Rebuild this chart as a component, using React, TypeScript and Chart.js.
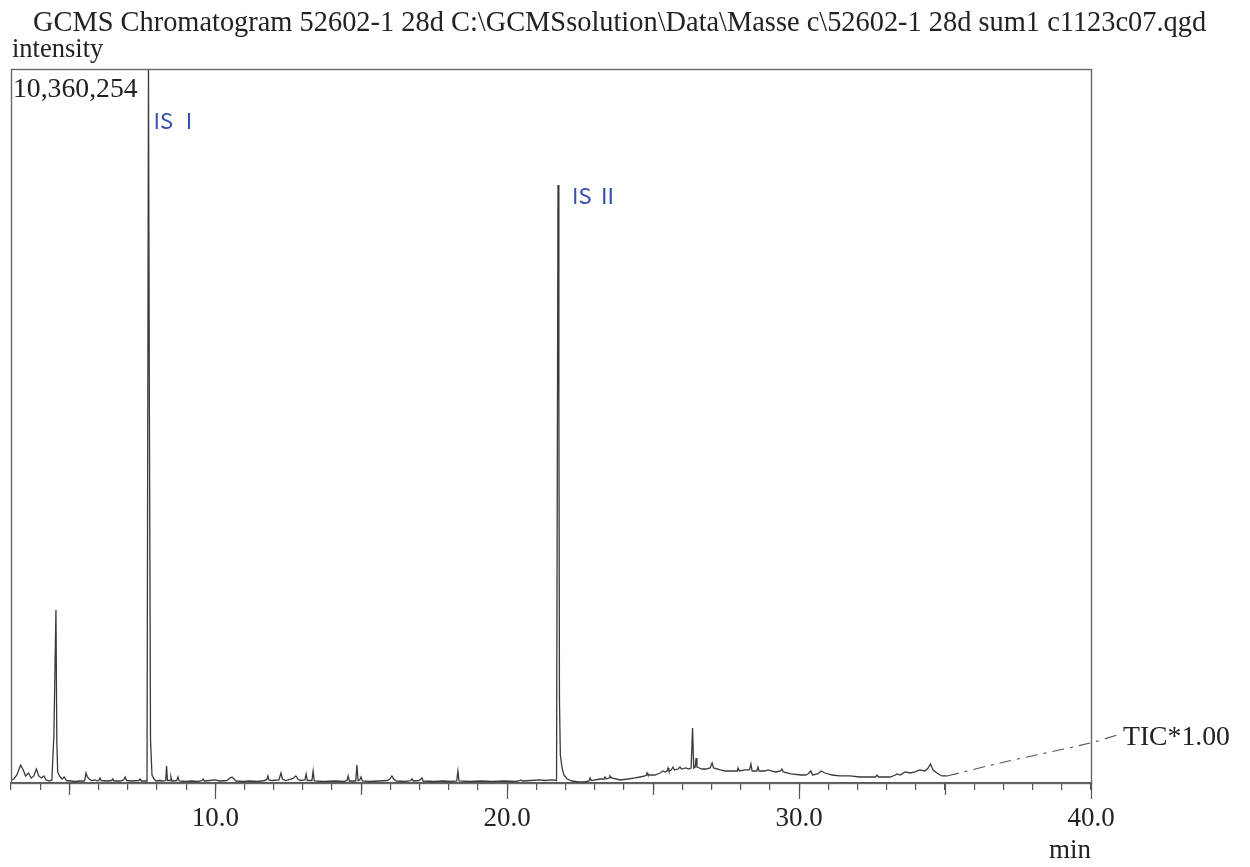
import { useEffect, useRef } from "react";
import { Chart, registerables } from "chart.js";

Chart.register(...registerables);

// ---- text ----
const TITLE =
  "GCMS Chromatogram 52602-1 28d C:\\GCMSsolution\\Data\\Masse c\\52602-1 28d sum1 c1123c07.qgd";
const Y_LABEL = "intensity";
const X_UNIT = "min";
const TRACE_LABEL = "TIC*1.00";

// ---- scales ----
const Y_MAX = 10360254;
const X_MIN = 3.0;
const X_MAX = 40.0;

// ---- chromatogram (retention time in min, intensity in counts) ----
const times = [
  3.0, 3.1, 3.2, 3.33, 3.42, 3.5, 3.6, 3.69, 3.78, 3.87, 3.95, 4.04, 4.13, 4.2, 4.32, 4.4, 4.47, 4.54, 4.57, 4.6,
  4.66, 4.75, 4.82, 4.9, 5.05, 5.2, 5.35, 5.5, 5.53, 5.57, 5.62, 5.68, 5.76, 5.88, 5.97, 6.02, 6.05, 6.09, 6.3, 6.45,
  6.49, 6.53, 6.75, 6.86, 6.91, 6.96, 7.15, 7.38, 7.42, 7.47, 7.66, 7.71, 7.74, 7.78, 7.83, 7.9, 7.97, 8.1,
  8.2, 8.3, 8.33, 8.36, 8.45, 8.48, 8.51, 8.68, 8.72, 8.76, 9.0, 9.2, 9.4, 9.55, 9.58, 9.62, 9.8, 9.99, 10.15, 10.4,
  10.5, 10.57, 10.64, 10.71, 10.95, 11.19, 11.45, 11.7, 11.77, 11.8, 11.84, 11.95, 12.18, 12.25, 12.3, 12.4, 12.62,
  12.68, 12.76, 12.83, 12.92, 13.07, 13.11, 13.15, 13.31, 13.35, 13.39, 13.7, 14.1, 14.4, 14.51, 14.55, 14.59,
  14.81, 14.85, 14.89, 14.95, 14.99, 15.04, 15.3, 15.6, 15.9, 15.98, 16.05, 16.11, 16.2, 16.5, 16.7, 16.74, 16.78,
  16.98, 17.04, 17.08, 17.12, 17.5, 17.8, 18.1, 18.27, 18.31, 18.35, 18.7, 19.1, 19.5, 19.9, 20.3, 20.42, 20.47,
  20.52, 20.8, 21.1, 21.3, 21.54, 21.69, 21.74, 21.77, 21.79, 21.82, 21.88, 21.94, 22.05, 22.22, 22.43,
  22.67, 22.8, 22.84, 22.88, 23.19, 23.32, 23.35, 23.39, 23.49, 23.52, 23.58, 23.87, 24.14, 24.38, 24.55, 24.72,
  24.77, 24.79, 24.82, 25.06, 25.24, 25.34, 25.41, 25.48, 25.51, 25.54, 25.62, 25.68, 25.73, 25.85, 25.92, 25.97,
  26.12, 26.22, 26.3, 26.35, 26.39, 26.44, 26.47, 26.5, 26.58, 26.67, 26.81, 26.95, 27.02, 27.07, 27.3, 27.47,
  27.63, 27.8, 27.88, 27.91, 27.95, 28.15, 28.3, 28.35, 28.39, 28.55, 28.59, 28.63, 28.83, 28.93, 29.07, 29.21,
  29.36, 29.41, 29.46, 29.72, 30.06, 30.23, 30.3, 30.4, 30.46, 30.64, 30.75, 30.89, 31.13, 31.4, 31.74, 32.09,
  32.43, 32.62, 32.67, 32.72, 33.12, 33.3, 33.35, 33.46, 33.63, 33.8, 33.97, 34.14, 34.31, 34.42, 34.5, 34.59,
  34.72, 34.89, 35.07,
];
const intensities = [
  44000, 58000, 116000, 261000, 189000, 102000, 145000, 73000, 102000, 203000, 102000, 73000, 102000, 44000, 29000,
  44000, 700000, 2510000, 600000, 160000, 102000, 58000, 87000, 36000, 29000, 22000, 29000, 29000, 44000, 145000,
  87000, 58000, 36000, 44000, 29000, 44000, 73000, 36000, 29000, 36000, 58000, 29000, 29000, 44000, 87000, 36000,
  29000, 36000, 58000, 29000, 29000, 10360254, 5560000, 624000, 116000, 58000, 29000, 36000, 29000, 36000,
  247000, 36000, 36000, 87000, 29000, 36000, 87000, 29000, 22000, 29000, 22000, 36000, 58000, 29000, 36000, 44000,
  29000, 36000, 73000, 87000, 58000, 29000, 22000, 29000, 22000, 36000, 58000, 102000, 44000, 36000, 44000, 145000,
  58000, 36000, 58000, 73000, 102000, 58000, 36000, 44000, 131000, 36000, 36000, 174000, 29000, 22000, 29000, 22000,
  36000, 102000, 29000, 29000, 261000, 36000, 44000, 87000, 29000, 22000, 29000, 36000, 58000, 102000, 58000, 29000,
  22000, 36000, 58000, 29000, 36000, 58000, 73000, 29000, 22000, 29000, 22000, 29000, 174000, 29000, 22000, 29000,
  22000, 29000, 22000, 36000, 44000, 29000, 36000, 44000, 36000, 44000, 36000, 8677000, 5560000, 1200000,
  406000, 218000, 116000, 58000, 29000, 14500, 14500, 29000, 73000, 36000, 58000, 58000, 87000, 58000, 73000,
  102000, 73000, 44000, 58000, 73000, 87000, 102000, 116000, 145000, 116000, 116000, 145000, 174000, 160000,
  174000, 218000, 174000, 189000, 232000, 189000, 203000, 232000, 203000, 218000, 203000, 218000, 798000, 218000,
  232000, 363000, 232000, 218000, 203000, 203000, 218000, 290000, 218000, 189000, 174000, 174000, 174000, 174000,
  218000, 174000, 189000, 189000, 276000, 174000, 174000, 232000, 174000, 174000, 189000, 174000, 160000, 174000,
  203000, 160000, 131000, 116000, 116000, 131000, 174000, 116000, 131000, 174000, 145000, 116000, 102000, 102000,
  87000, 87000, 87000, 116000, 87000, 87000, 116000, 131000, 116000, 160000, 145000, 160000, 189000, 174000,
  218000, 276000, 189000, 145000, 102000, 102000,
];

// ---- dash-dot leader from trace end to the trace label ----
const leaderTimes = [35.07, 36.88, 39.97, 40.89];
const leaderIntensities = [102000, 290000, 580000, 696000];

// ---- handwritten peak notes ----
const noteTexts = ["IS Ⅰ", "IS Ⅱ"];
const noteTimes = [7.71, 21.74];
const noteIntensities = [10360254, 8677000];

const SERIF = "'Liberation Serif', 'Times New Roman', serif";

const decor = {
  id: "decor",
  afterDraw(chart: any) {
    const { ctx, chartArea: a, scales } = chart;
    const xs = scales.x;
    const ys = scales.y;
    ctx.save();
    // frame
    ctx.strokeStyle = "#666";
    ctx.lineWidth = 1.4;
    ctx.strokeRect(a.left + 0.5, a.top + 0.5, a.right - a.left, a.bottom - a.top);
    // longer ticks at 5 and 10 min
    ctx.strokeStyle = "#555";
    ctx.lineWidth = 1.2;
    for (let v = 5; v <= X_MAX; v += 5) {
      const px = Math.round(xs.getPixelForValue(v)) + 0.5;
      const len = v % 10 === 0 ? 16 : 12;
      ctx.beginPath();
      ctx.moveTo(px, a.bottom);
      ctx.lineTo(px, a.bottom + len);
      ctx.stroke();
    }
    // texts
    ctx.fillStyle = "#222";
    ctx.textBaseline = "alphabetic";
    ctx.textAlign = "left";
    ctx.font = `28.4px ${SERIF}`;
    ctx.fillText(TITLE, 33, 31);
    ctx.font = `26.5px ${SERIF}`;
    ctx.fillText(Y_LABEL, 12, 57);
    ctx.font = `27.7px ${SERIF}`;
    ctx.fillText(Y_MAX.toLocaleString("en-US"), a.left + 2, a.top + 28);
    ctx.font = `27px ${SERIF}`;
    ctx.textAlign = "right";
    ctx.fillText(X_UNIT, a.right, 858);
    ctx.textAlign = "left";
    ctx.font = `27.7px ${SERIF}`;
    const lx = xs.getPixelForValue(leaderTimes[leaderTimes.length - 1]);
    const ly = ys.getPixelForValue(leaderIntensities[leaderIntensities.length - 1]);
    ctx.fillText(TRACE_LABEL, lx + 6, ly + 10);
    // handwritten notes
    ctx.fillStyle = "#3550b0";
    ctx.font = `22px 'Noto Sans CJK JP', 'DejaVu Sans', sans-serif`;
    noteTexts.forEach((t, i) => {
      const px = xs.getPixelForValue(noteTimes[i]);
      const py = ys.getPixelForValue(noteIntensities[i]);
      const dx = i === 0 ? 5 : 14;
      const dy = i === 0 ? 60 : 19;
      ctx.fillText(t, px + dx, py + dy);
    });
    ctx.restore();
  },
};

export default function App() {
  const ref = useRef<HTMLCanvasElement>(null);
  useEffect(() => {
    const chart = new Chart(ref.current!, {
      type: "line",
      data: {
        datasets: [
          {
            data: times.map((t, i) => ({ x: t, y: intensities[i] })),
            borderColor: "#3a3a3a",
            borderWidth: 1.3,
            pointRadius: 0,
            tension: 0,
          },
          {
            data: leaderTimes.map((t, i) => ({ x: t, y: leaderIntensities[i] })),
            borderColor: "#555",
            borderWidth: 1.1,
            borderDash: [12, 6, 3, 6],
            pointRadius: 0,
            tension: 0.3,
            clip: false,
          } as any,
        ],
      },
      plugins: [decor],
      options: {
        animation: false,
        responsive: false,
        maintainAspectRatio: false,
        devicePixelRatio: 1,
        layout: { padding: { left: 11, right: 159, top: 69, bottom: 0 } },
        plugins: { legend: { display: false }, tooltip: { enabled: false }, title: { display: false } },
        events: [],
        scales: {
          x: {
            type: "linear",
            min: X_MIN,
            max: X_MAX,
            afterFit: (s: any) => {
              s.height = 84;
            },
            grid: { display: true, drawOnChartArea: false, drawTicks: true, tickLength: 7, color: "#555", lineWidth: 1.2 },
            border: { display: true, color: "#555", width: 1.2 },
            ticks: {
              stepSize: 1,
              autoSkip: false,
              maxRotation: 0,
              minRotation: 0,
              padding: 11,
              color: "#222",
              font: { family: SERIF, size: 27, lineHeight: 1.35 },
              callback: (v: any) => (Number(v) % 10 === 0 ? Number(v).toFixed(1) : ""),
            },
          },
          y: { type: "linear", min: 0, max: Y_MAX, display: false },
        },
      },
    });
    return () => chart.destroy();
  }, []);
  return (
    <div style={{ position: "absolute", left: 0, top: 0, width: 1250, height: 867, background: "#fff" }}>
      <canvas ref={ref} width={1250} height={867} style={{ display: "block", width: 1250, height: 867 }} />
    </div>
  );
}
